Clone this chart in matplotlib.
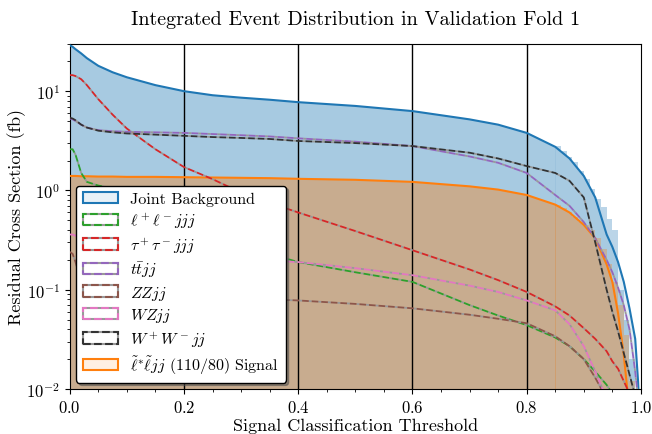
import numpy as np
import matplotlib
matplotlib.use("Agg")
import matplotlib.pyplot as plt
from matplotlib.patches import Patch
from matplotlib.legend_handler import HandlerTuple
from matplotlib.ticker import MultipleLocator

plt.rcParams['font.family'] = 'serif'
plt.rcParams['font.serif'] = ['cmr10']
plt.rcParams['mathtext.fontset'] = 'cm'
plt.rcParams['axes.formatter.use_mathtext'] = True

# threshold grid on which the curves were read
thr = [0, 0.005, 0.01, 0.02, 0.03, 0.05, 0.075, 0.1, 0.15, 0.2, 0.25, 0.3, 0.35, 0.4,
       0.5, 0.6, 0.7, 0.75, 0.8, 0.85, 0.875, 0.9, 0.92, 0.94, 0.95, 0.96, 0.97,
       0.98, 0.99, 0.995, 1.0]

joint_bg = [29, 28, 26.5, 24, 21.5, 18, 15.5, 13.8, 11.5, 10.0, 9.1, 8.6, 8.2, 7.75,
            7.1, 6.3, 5.2, 4.6, 3.8, 2.75, 2.1, 1.4, 0.85, 0.36, 0.27, 0.19, 0.12,
            0.065, 0.032, 0.012, 0.003]
llj = [2.6, 2.6, 2.3, 1.5, 1.22, 1.12, 1.05, 1.0, 0.92, 0.8, 0.55, 0.35, 0.23, 0.19,
       0.15, 0.12, 0.07, 0.055, 0.044, 0.033, 0.027, 0.02, 0.015, 0.011, 0.009, 0.007,
       0.005, 0.004, 0.003, 0.002, 0.001]
tautau = [14.5, 14.5, 14.2, 13.2, 11.5, 8.3, 5.8, 4.2, 2.6, 1.72, 1.3, 0.95, 0.75, 0.6,
          0.39, 0.25, 0.16, 0.125, 0.095, 0.068, 0.055, 0.041, 0.032, 0.024, 0.019,
          0.016, 0.012, 0.009, 0.005, 0.003, 0.002]
ttjj = [5.3, 5.2, 5.0, 4.6, 4.3, 4.05, 3.95, 3.9, 3.85, 3.8, 3.7, 3.6, 3.5, 3.35, 3.1,
        2.8, 2.2, 1.9, 1.5, 0.9, 0.7, 0.48, 0.33, 0.2, 0.15, 0.105, 0.07, 0.04, 0.015,
        0.008, 0.003]
zzjj = [0.24, 0.23, 0.19, 0.12, 0.1, 0.092, 0.09, 0.088, 0.086, 0.084, 0.083, 0.081,
        0.08, 0.078, 0.072, 0.065, 0.056, 0.051, 0.046, 0.034, 0.027, 0.02, 0.013,
        0.008, 0.006, 0.005, 0.004, 0.003, 0.002, 0.001, 0.001]
wzjj = [0.36, 0.36, 0.35, 0.34, 0.33, 0.31, 0.29, 0.28, 0.25, 0.23, 0.215, 0.205, 0.197,
        0.19, 0.165, 0.14, 0.11, 0.095, 0.078, 0.062, 0.045, 0.027, 0.015, 0.008,
        0.006, 0.004, 0.003, 0.002, 0.001, 0.001, 0.001]
wwjj = [5.4, 5.3, 5.1, 4.6, 4.3, 4.0, 3.85, 3.75, 3.65, 3.55, 3.45, 3.38, 3.3, 3.15, 3.0,
        2.8, 2.4, 2.1, 1.76, 1.5, 1.25, 0.85, 0.3, 0.1, 0.06, 0.038, 0.023, 0.014,
        0.0085, 0.007, 0.003]
signal = [1.4, 1.4, 1.4, 1.39, 1.39, 1.38, 1.38, 1.37, 1.37, 1.36, 1.35, 1.34, 1.33,
          1.31, 1.28, 1.22, 1.1, 1.02, 0.9, 0.72, 0.6, 0.45, 0.33, 0.18, 0.12, 0.058,
          0.022, 0.006, 0.002, 0.001, 0.001]

# visible histogram steps in the tail (bins of 0.01 from 0.85)
tail_edges = [0.85, 0.86, 0.87, 0.88, 0.89, 0.90, 0.91, 0.92, 0.93, 0.94, 0.95, 0.96,
              0.97, 0.98, 0.99, 1.0]
bg_tail = [2.8, 2.5, 2.17, 1.93, 1.57, 1.31, 1.03, 0.82, 0.68, 0.52, 0.4, 0.1, 0.05,
           0.02, 0.008]
sig_tail = [0.72, 0.66, 0.6, 0.54, 0.48, 0.45, 0.4, 0.33, 0.26, 0.18, 0.12, 0.07, 0.035,
            0.012, 0.002]

backgrounds = [
    (llj, 'C2', r'$\ell^+\ell^-jjj$'),
    (tautau, 'C3', r'$\tau^+\tau^-jjj$'),
    (ttjj, 'C4', r'$t\bar{t}jj$'),
    (zzjj, 'C5', r'$ZZjj$'),
    (wzjj, 'C6', r'$WZjj$'),
    (wwjj, '#333333', r'$W^+W^-jj$'),
]

x = np.array(thr)
body = x <= 0.85
floor = 1e-4

fig = plt.figure(figsize=(6.52, 4.35), dpi=100)
ax = fig.add_axes([0.107, 0.1034, 0.876, 0.7936])

# joint background
bg = np.array(joint_bg)
ax.fill_between(x, bg, floor, color='C0', alpha=0.12, lw=0, zorder=1)
ax.fill_between(x[body], bg[body], floor, color='C0', alpha=0.3, lw=0, zorder=1)
ax.stairs(bg_tail, tail_edges, baseline=floor, fill=True, color='C0', alpha=0.3, zorder=1)

# signal
sg = np.array(signal)
ax.fill_between(x, sg, floor, color='C1', alpha=0.12, lw=0, zorder=1.1)
ax.fill_between(x[body], sg[body], floor, color='C1', alpha=0.3, lw=0, zorder=1.1)
ax.stairs(sig_tail, tail_edges, baseline=floor, fill=True, color='C1', alpha=0.3, zorder=1.1)

for v in [0.2, 0.4, 0.6, 0.8]:
    ax.axvline(v, color='black', lw=1, zorder=1.5)

ax.plot(x, bg, color='C0', lw=1.5, zorder=3)
ax.plot(x, sg, color='C1', lw=1.5, zorder=3)
for vals, col, lab in backgrounds:
    ax.plot(x, vals, color=col, lw=1.3, ls='--', gapcolor='0.6', zorder=3)

ax.set_yscale('log')
ax.set_ylim(1e-2, 30)
ax.set_xlim(0, 1)
ax.xaxis.set_minor_locator(MultipleLocator(0.05))
ax.tick_params(labelsize=12)

ax.set_title('Integrated Event Distribution in Validation Fold 1', fontsize=14.5, pad=14)
ax.set_xlabel('Signal Classification Threshold', fontsize=13, labelpad=2)
ax.set_ylabel('Residual Cross Section (fb)', fontsize=13)
ax.yaxis.set_label_coords(-0.077, 0.5)

handles = [Patch(facecolor=(0.91, 0.945, 0.97), edgecolor='C0', lw=1.5)]
labels = ['Joint Background']
for vals, col, lab in backgrounds:
    handles.append((Patch(facecolor='white', edgecolor='0.6', lw=1.5),
                    Patch(facecolor='none', edgecolor=col, lw=1.5, ls='--')))
    labels.append(lab)
handles.append(Patch(facecolor=(1.0, 0.94, 0.89), edgecolor='C1', lw=1.5))
labels.append(r'$\tilde{\ell}^{*}\tilde{\ell}jj$ (110/80) Signal')

leg = ax.legend(handles, labels, loc='lower left', fontsize=11.5, framealpha=1,
                edgecolor='black', shadow=True, fancybox=True, labelspacing=0.3,
                handlelength=2.2, handletextpad=0.8,
                handler_map={tuple: HandlerTuple(ndivide=1)},
                borderaxespad=0.4)
leg.set_zorder(5)

fig.savefig('out.png', dpi=100)
